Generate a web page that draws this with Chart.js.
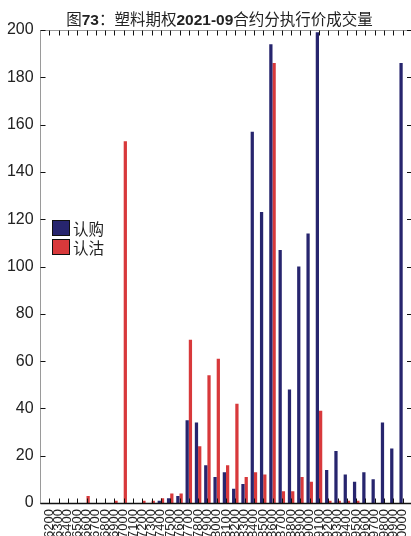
<!DOCTYPE html>
<html>
<head>
<meta charset="utf-8">
<script src="https://cdn.jsdelivr.net/npm/chart.js@4/dist/chart.umd.min.js"></script>
<style>
  html, body { margin: 0; padding: 0; background: #fff; overflow: hidden; }
  #wrap { position: relative; width: 411px; height: 536px; }
  #title {
    position: absolute; top: 7px; left: 0; width: 411px; padding-left: 28px; box-sizing: border-box;
    text-align: center; font: 15.5px "Noto Sans CJK SC", sans-serif; color: #222; white-space: nowrap;
  }
  #title b { font-family: "Liberation Sans", Arial, sans-serif; font-weight: bold; }
  #legend { position: absolute; left: 52px; top: 218px; font: 15.5px "Noto Sans CJK SC", sans-serif; color: #222; }
  #legend .item { display: flex; align-items: center; height: 19px; }
  #legend .box { width: 16px; height: 14px; border: 1px solid #111; margin-right: 3px; }
</style>
</head>
<body>
<div id="wrap">
  <canvas id="chart" width="411" height="536"></canvas>
  <div id="title">图<b>73</b>：塑料期权<b>2021-09</b>合约分执行价成交量</div>
  <div id="legend"></div>
</div>
<script>
const strikes = [
  '6200', '6300', '6400', '6500', '6600', '6700', '6800', '6900', '7000', '7100',
  '7200', '7300', '7400', '7500', '7600', '7700', '7800', '7900', '8000', '8100',
  '8200', '8300', '8400', '8500', '8600', '8700', '8800', '8900', '9000', '9100',
  '9200', '9300', '9400', '9500', '9600', '9700', '9800', '9900', '10000'
];
const callVolume = [
  0, 0, 0, 0, 0, 0, 0, 0, 0, 0,
  0, 0, 1, 2, 3, 35, 34, 16, 11, 13,
  6, 8, 157, 123, 194, 107, 48, 100, 114, 199,
  14, 22, 12, 9, 13, 10, 34, 23, 186
];
const putVolume = [
  0, 0, 0, 0, 3, 0, 0, 1, 153, 0,
  1, 1, 2, 4, 4, 69, 24, 54, 61, 16,
  42, 11, 13, 12, 186, 5, 5, 11, 9, 39,
  1, 1, 1, 1, 0, 0, 0, 0, 0
];

const LEFT_GAP = 4.6; // frame sits a bit left of the first category

const frameTicks = {
  id: 'frameTicks',
  afterDraw(chart) {
    const { ctx, chartArea: a, scales: { x, y } } = chart;
    const left = Math.round(a.left - LEFT_GAP) + 0.5;
    const right = 411;
    const top = Math.round(a.top) + 0.5;
    const bottom = Math.round(a.bottom) + 0.5;
    const line = (x1, y1, x2, y2) => {
      ctx.beginPath();
      ctx.moveTo(x1, y1);
      ctx.lineTo(x2, y2);
      ctx.stroke();
    };
    ctx.save();
    ctx.lineWidth = 1;
    ctx.strokeStyle = '#9a9a9a';
    line(left, top, left, bottom);
    line(left, top, right, top);
    ctx.strokeStyle = '#111';
    x.ticks.forEach((t, i) => {
      const px = Math.round(x.getPixelForTick(i)) + 0.5;
      line(px, bottom, px, bottom - 5);
      line(px, top, px, top + 5);
    });
    y.ticks.forEach((t, i) => {
      const py = Math.round(y.getPixelForTick(i)) + 0.5;
      line(left, py, left + 5, py);
      line(right, py, right - 4, py);
    });
    ctx.lineWidth = 1.5;
    line(left, bottom, right, bottom);
    ctx.restore();
  }
};

Chart.defaults.font.family = '"Liberation Sans", Arial, sans-serif';
Chart.defaults.color = '#222';

const chart = new Chart(document.getElementById('chart'), {
  type: 'bar',
  data: {
    labels: strikes,
    datasets: [
      {
        label: '认购',
        data: callVolume,
        backgroundColor: '#27256e',
        borderWidth: 0
      },
      {
        label: '认沽',
        data: putVolume,
        backgroundColor: '#d8393b',
        borderWidth: 0
      }
    ]
  },
  options: {
    responsive: false,
    animation: false,
    categoryPercentage: 0.7,
    barPercentage: 1,
    layout: { padding: { top: 30, right: 3.65, left: 0, bottom: 0 } },
    plugins: {
      legend: { display: false },
      title: { display: false },
      tooltip: { enabled: false }
    },
    scales: {
      x: {
        offset: true,
        grid: { display: false, drawTicks: false },
        border: { display: false },
        ticks: {
          autoSkip: false,
          minRotation: 90,
          maxRotation: 90,
          padding: 6,
          font: { size: 13 }
        },
        afterFit(scale) {
          scale.height = 33;
          scale.paddingLeft = 0;
          scale.paddingRight = 0;
        }
      },
      y: {
        min: 0,
        max: 200,
        grid: { display: false, drawTicks: false },
        border: { display: false },
        ticks: { stepSize: 20, padding: 11, font: { size: 16 } },
        afterFit(scale) {
          scale.width = 44.65;
          scale.paddingTop = 0;
          scale.paddingBottom = 0;
        }
      }
    }
  },
  plugins: [frameTicks]
});

// legend from the datasets
document.getElementById('legend').innerHTML = chart.data.datasets.map(ds =>
  `<div class="item"><span class="box" style="background:${ds.backgroundColor}"></span>${ds.label}</div>`
).join('');
</script>
</body>
</html>
